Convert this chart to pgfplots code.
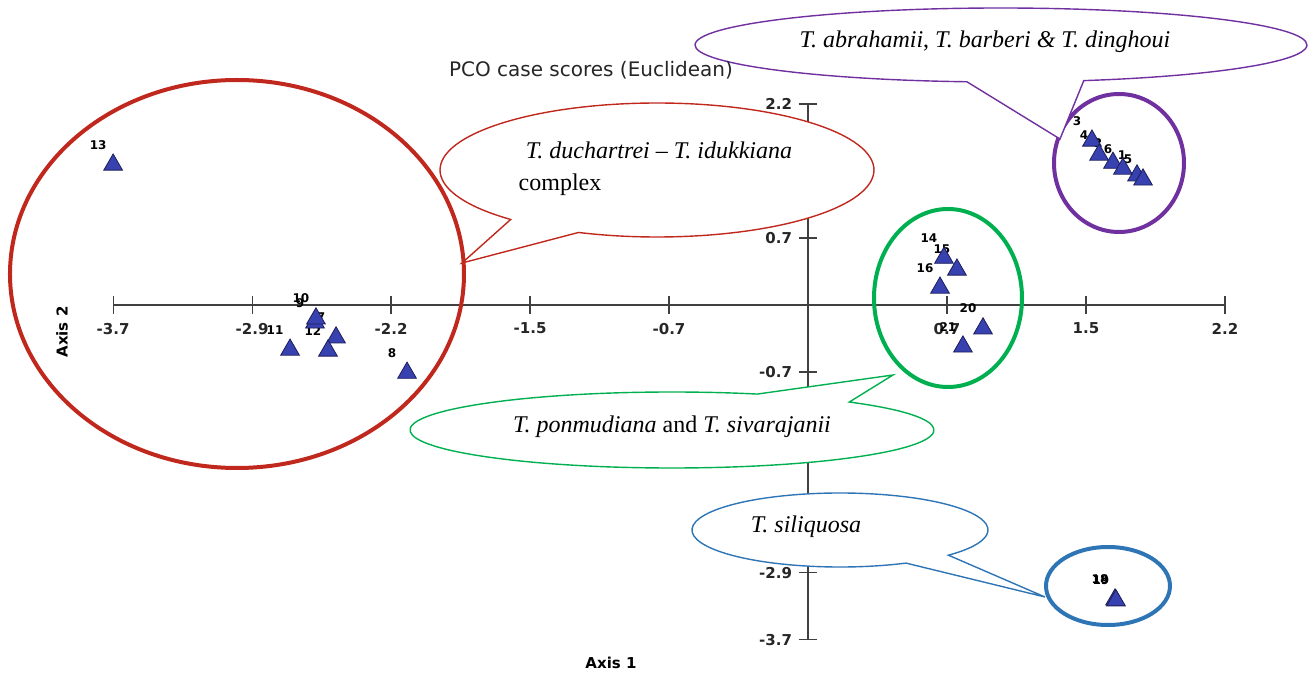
\documentclass[border=0pt]{standalone}
\usepackage{pgfplots}
\pgfplotsset{compat=1.18}
\usepackage{pgfplotstable}
\usepackage{fontspec}
\setmainfont{Liberation Serif}
\newfontfamily\dejavu{DejaVu Sans}
\definecolor{ptfill}{RGB}{55,65,175}
\definecolor{ptdraw}{RGB}{30,30,90}
\definecolor{cred}{RGB}{192,40,30}
\definecolor{cpurple}{RGB}{112,48,160}
\definecolor{cgreen}{RGB}{0,176,80}
\definecolor{cblue}{RGB}{46,117,182}

\pgfplotstableread{
label x y
1 1.752 1.43
2 1.624 1.57
3 1.512 1.815
4 1.550 1.66
5 1.784 1.385
6 1.677 1.505
7 -2.513 -0.36
8 -2.135 -0.75
9 -2.625 -0.195
10 -2.620 -0.15
11 -2.758 -0.495
12 -2.556 -0.505
13 -3.70 1.55
14 0.724 0.52
15 0.793 0.39
16 0.703 0.19
18 1.635 -3.255
19 1.640 -3.265
20 0.932 -0.26
21 0.825 -0.46
}\pts

\begin{document}
\begin{tikzpicture}
\begin{axis}[
  anchor=origin, at={(0,0)},
  x=93.9pt, y=45.25pt,
  xmin=-3.7, xmax=2.22, ymin=-3.7, ymax=2.22,
  enlargelimits=false, clip=false,
  axis lines=middle,
  axis line style={-, black!75, line width=0.6pt},
  xtick={-3.7,-2.96,-2.22,-1.48,-0.74,0.74,1.48,2.22},
  xticklabels={-3.7,-2.9,-2.2,-1.5,-0.7,0.7,1.5,2.2},
  ytick={2.22,0.74,-0.74,-2.96,-3.7},
  yticklabels={2.2,0.7,-0.7,-2.9,-3.7},
  tick align=center, major tick length=9pt,
  tick style={black!75, line width=0.6pt},
  xticklabel style={yshift=-1pt},
  ticklabel style={font=\dejavu\bfseries\fontsize{7.5}{8}\selectfont, text=black!85},
]
\addplot[draw=none, mark=none, nodes near coords, point meta=explicit symbolic,
  nodes near coords style={anchor=center, xshift=-7.5pt, yshift=10pt, text=black,
  font=\dejavu\bfseries\fontsize{6}{7}\selectfont, inner sep=0pt}]
  table[x=x,y=y,meta=label]{\pts};
\addplot[only marks, mark=triangle*, mark size=5.4pt,
  mark options={fill=ptfill, draw=ptdraw, line width=0.4pt}]
  table[x=x,y=y]{\pts};
\end{axis}

\begin{scope}[x=0.5pt, y=-0.5pt, shift={(-404pt,152.5pt)}]
% cluster outlines
\draw[cred, line width=2pt] (237,274) ellipse [x radius=227, y radius=194];
\draw[cpurple, line width=2pt] (1119,163) ellipse [x radius=65, y radius=69];
\draw[cgreen, line width=2pt] (948,298) ellipse [x radius=74, y radius=89];
\draw[cblue, line width=2pt] (1108,586) ellipse [x radius=62, y radius=39];
% callouts
\filldraw[cred, fill=white, line width=0.7pt]
  ([shift={(657,170)}]132.4:217 and 67) arc[start angle=132.4, end angle=471.2, x radius=217, y radius=67] -- (462,263) -- cycle;
\filldraw[cpurple, fill=white, line width=0.7pt]
  ([shift={(1001,45)}]96.4:306 and 37) arc[start angle=96.4, end angle=434.3, x radius=306, y radius=37] -- (1060,139) -- cycle;
\filldraw[cgreen, fill=white, line width=0.7pt]
  ([shift={(672,430)}]312.6:262 and 38) arc[start angle=312.6, end angle=649, x radius=262, y radius=38] -- (893,375) -- cycle;
\filldraw[cblue, fill=white, line width=0.7pt]
  ([shift={(840,530)}]63.5:148 and 37) arc[start angle=63.5, end angle=402.9, x radius=148, y radius=37] -- (1045,597) -- cycle;
% texts
\begin{scope}[every node/.style={font=\fontsize{12}{14}\selectfont, inner sep=0pt}]
\node at (985,42) {\textit{T. abrahamii}, \textit{T. barberi \& T. dinghoui}};
\node at (659,150) {\textit{T. duchartrei} – \textit{T. idukkiana}};
\node at (560,185) {complex};
\node at (672,427) {\textit{T. ponmudiana} and \textit{T. sivarajanii}};
\node at (806,527) {\textit{T. siliquosa}};
\end{scope}
\node[font=\dejavu\fontsize{10}{12}\selectfont, text=black!85] at (591,70) {PCO case scores (Euclidean)};
\node[font=\dejavu\bfseries\fontsize{7.5}{9}\selectfont] at (611,663) {Axis 1};
\node[font=\dejavu\bfseries\fontsize{7.5}{9}\selectfont, rotate=90] at (62,332) {Axis 2};
\end{scope}
\pgfresetboundingbox
\path[use as bounding box] (-404pt,152.5pt) rectangle (252pt,-184.5pt);
\end{tikzpicture}
\end{document}
